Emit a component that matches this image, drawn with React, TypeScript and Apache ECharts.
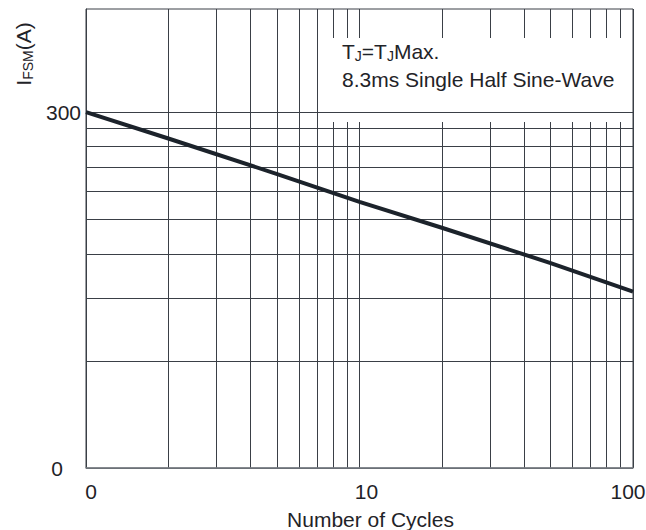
import React, { useEffect, useRef } from 'react';
import * as echarts from 'echarts';

// Curve (straight line on log-log paper)
const cycles = [1, 2, 5, 10, 20, 50, 100];
const ifsm = [300, 253, 201, 168, 142, 113, 94];

// Grid / tick values
const xGridValues = [1, 2, 3, 4, 5, 6, 7, 8, 9, 10, 20, 30, 40, 50, 60, 70, 80, 90, 100];
const xLabelValues = [1, 10, 100];
const xLabelTexts = ['0', '10', '100'];
const yGridValues = [30, 60, 90, 120, 150, 180, 210, 240, 270, 300];
const yLabelValues = [30, 300];
const yLabelTexts = ['0', '300'];
const topLine = [300];

const xAxisTitle = 'Number of Cycles';
const noteLine1 = '{n|T}{s|J}{n|=T}{s|J}{n|Max.}';
const noteLine2 = '{n|8.3ms Single Half Sine-Wave}';
const yAxisTitle = '{n|I}{s|FSM}{n|(A)}';

const FONT = 'Liberation Sans, Arial, sans-serif';
const TXT = '#1f2328';
const GRID = '#3a3f46';

export default function App() {
  const ref = useRef<HTMLDivElement>(null);
  useEffect(() => {
    if (!ref.current) return;
    const chart = echarts.init(ref.current, undefined, { renderer: 'svg' });
    const xRich: any = {
      a0: { fontSize: 21, color: TXT, fontFamily: FONT, padding: [0, 0, 0, 10] },
      a1: { fontSize: 21, color: TXT, fontFamily: FONT, padding: [0, 0, 0, 14] },
      a2: { fontSize: 21, color: TXT, fontFamily: FONT, padding: [0, 10, 0, 0] },
    };
    const yRich: any = {
      b0: { fontSize: 21, color: TXT, fontFamily: FONT, padding: [0, 18, 0, 0] },
      b1: { fontSize: 21, color: TXT, fontFamily: FONT },
    };
    const option: any = {
      animation: false,
      backgroundColor: '#ffffff',
      grid: {
        left: 86, right: 13, top: 9, bottom: 62,
        outerBoundsMode: 'none',
        containLabel: false,
        show: true, borderColor: GRID, borderWidth: 1, backgroundColor: 'transparent',
      },
      xAxis: {
        type: 'log',
        logBase: 10,
        min: 1,
        max: 100,
        name: xAxisTitle,
        nameLocation: 'middle',
        nameGap: 41,
        nameTextStyle: { fontSize: 21, color: TXT, fontFamily: FONT, padding: [0, 0, 0, 22] },
        axisLine: { show: true, lineStyle: { color: '#7d8288', width: 1.5 } },
        axisTick: { show: false, customValues: xGridValues },
        splitLine: { show: true, lineStyle: { color: GRID, width: 1 } },
        minorTick: { show: false },
        axisLabel: {
          customValues: xLabelValues,
          margin: 13,
          formatter: (v: number) => {
            const i = xLabelValues.indexOf(v);
            return i >= 0 ? `{a${i}|${xLabelTexts[i]}}` : '';
          },
          rich: xRich,
        },
      },
      yAxis: {
        type: 'log',
        logBase: 10,
        min: 30,
        max: 585,
        axisLine: { show: true, lineStyle: { color: GRID, width: 1 } },
        axisTick: { show: false, customValues: yGridValues },
        splitLine: { show: true, lineStyle: { color: GRID, width: 1 } },
        axisLabel: {
          customValues: yLabelValues,
          margin: 5,
          formatter: (v: number) => {
            const i = yLabelValues.indexOf(v);
            return i >= 0 ? `{b${i}|${yLabelTexts[i]}}` : '';
          },
          rich: yRich,
        },
      },
      graphic: [
        { type: 'rect', z: 1, silent: true, shape: { x: 331, y: 38, width: 301, height: 84 }, style: { fill: '#ffffff' } },
        {
          type: 'text', z: 10, x: 342, y: 37,
          style: {
            text: noteLine1 + '\n' + noteLine2,
            rich: {
              n: { fontSize: 21, lineHeight: 28, fill: TXT, fontFamily: FONT },
              s: { fontSize: 14, lineHeight: 14, fill: TXT, fontFamily: FONT, verticalAlign: 'bottom', padding: [0, 0, 2, 0] },
            },
          },
        },
        {
          type: 'text', z: 10, x: 23, y: 54, rotation: Math.PI / 2,
          style: {
            text: yAxisTitle,
            align: 'center',
            verticalAlign: 'middle',
            rich: {
              n: { fontSize: 21, lineHeight: 28, fill: TXT, fontFamily: FONT },
              s: { fontSize: 14, lineHeight: 14, fill: TXT, fontFamily: FONT, verticalAlign: 'bottom', padding: [0, 0, 2, 0] },
            },
          },
        },
      ],
      series: [
        {
          type: 'line',
          z: 5,
          data: cycles.map((c, i) => [c, ifsm[i]]),
          showSymbol: false,
          symbol: 'none',
          lineStyle: { color: '#1c232b', width: 4 },
          markLine: {
            silent: true,
            symbol: 'none',
            label: { show: false },
            lineStyle: { color: GRID, width: 1, type: 'solid' },
            data: topLine.map((v) => ({ yAxis: v })),
          },
        },
      ],
    };
    chart.setOption(option);
    return () => chart.dispose();
  }, []);
  return <div ref={ref} style={{ position: 'fixed', left: 0, top: 0, width: 646, height: 530 }} />;
}
